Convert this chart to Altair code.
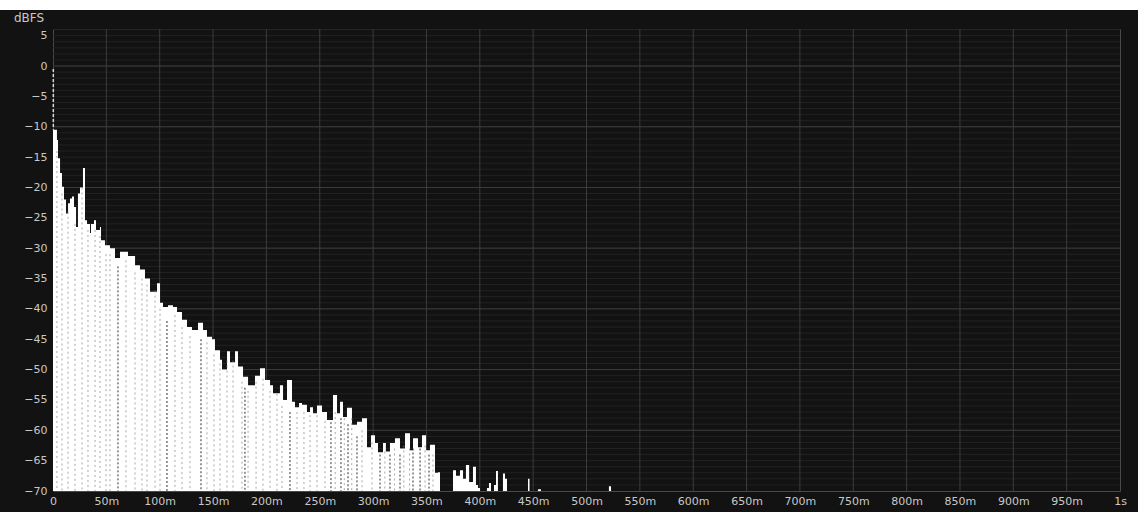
import altair as alt
import pandas as pd

# Envelope of the decay (time in ms, level in dBFS); -70 = floor / gap
time_ms = [0, 1.9, 3.7, 4.7, 6.6, 8.4, 10.3, 12.2, 14.1, 15.9, 17.8, 19.7, 21.6, 23.4, 25.3,
           28.1, 30.0, 31.9, 34.7, 35.6, 38.4, 40.3, 44.0, 45.0, 48.7, 53.4, 58.1, 62.8, 70.3,
           76.9, 81.5, 86.2, 90.9, 97.5, 100.3, 103.1, 107.8, 112.5, 116.2, 120.9, 125.6,
           130.3, 135.9, 140.6, 144.3, 149.0, 151.8, 156.5, 158.4, 163.1, 165.9, 170.6,
           173.4, 178.1, 182.8, 189.3, 194.0, 198.7, 203.4, 206.2, 212.7, 215.6, 219.3,
           224.0, 226.8, 230.6, 233.4, 238.0, 240.9, 243.7, 247.4, 252.1, 256.8, 262.4,
           266.2, 269.0, 271.8, 275.5, 280.2, 284.9, 289.6, 294.3, 298.0, 301.8, 304.6,
           309.3, 312.0, 315.8, 320.5, 325.2, 329.9, 334.6, 337.4, 342.1, 345.8, 349.6,
           353.3, 358.0, 360.8, 362.7,
           374.9, 377.7, 381.4, 384.3, 387.0, 390.0, 393.6, 396.4, 398.3, 400.2,
           406.7, 408.6, 410.5, 413.3, 415.2, 417.0, 421.7, 423.6, 425.5,
           445.2, 446.6, 454.5, 457.3, 521.0, 523.0]
level_db = [-10.5, -10.5, -12.2, -15.2, -17.6, -19.9, -22.0, -24.3, -22.6, -21.8, -21.5, -23.2, -26.5, -21.0, -20.0,
            -16.8, -25.4, -26.0, -27.5, -26.0, -25.4, -27.0, -26.5, -28.7, -29.5, -30.0, -31.6, -30.6, -31.3,
            -32.8, -33.5, -35.0, -37.2, -35.8, -39.0, -39.7, -39.4, -39.7, -40.5, -41.8, -43.0,
            -43.5, -42.3, -43.5, -44.6, -45.0, -46.8, -48.4, -50.0, -47.0, -48.8, -47.0,
            -49.5, -51.2, -52.6, -51.0, -49.8, -51.7, -52.6, -53.9, -52.6, -55.0, -51.7,
            -55.3, -56.2, -55.5, -55.8, -57.0, -56.2, -57.2, -55.9, -57.0, -58.3, -54.2,
            -57.2, -55.3, -57.8, -56.3, -59.1, -58.6, -58.0, -62.8, -60.8, -62.1, -63.6,
            -62.1, -63.5, -62.1, -61.3, -63.0, -60.5, -63.3, -61.3, -62.8, -60.8, -63.3,
            -62.4, -67.0, -66.9, -70.0,
            -66.6, -67.5, -66.6, -68.0, -65.7, -68.5, -66.0, -69.0, -69.5, -70.0,
            -69.5, -68.7, -70.0, -69.0, -66.7, -70.0, -67.1, -68.0, -70.0,
            -68.0, -70.0, -69.7, -70.0, -69.2, -70.0]

# Direct-sound impulse at t = 0 (thin dashed spike)
impulse_ms = [0.3]
impulse_top = [-0.5]
impulse_bottom = [-10.5]

# Dotted texture columns inside the decay (time in ms, top in dBFS)
gray_col_ms = [3.7, 8.4, 14.1, 20.6, 27.2, 32.8, 39.4, 44.0, 49.7, 53.4, 68.4, 76.9, 83.4,
               88.1, 95.6, 100.3, 114.3, 120.9, 128.4, 144.3, 150.9, 156.5, 163.1, 168.7,
               177.1, 182.8, 190.3, 196.8, 203.4, 209.9, 214.6, 228.7, 235.2, 240.9, 247.4,
               254.9, 264.5, 273.0, 280.0, 289.6, 299.0, 311.0, 320.0, 328.8, 334.2, 348.7,
               356.1]
gray_col_top = [-14, -21, -24, -26, -20, -27, -27, -28, -31, -31, -32, -34, -35,
                -36, -37, -40, -41, -43, -44.5, -45.5, -47.5, -49, -48.5, -48.5,
                -52, -53.5, -52, -51.5, -53.5, -54, -56, -57, -57, -57.5, -57.5,
                -58.5, -57, -58, -58, -60, -62, -63.5, -63, -62.5, -63, -62.5,
                -64]
dark_col_ms = [60.9, 106.8, 138.7, 179.9, 222.1, 260.5, 269.9, 276.5, 284.9, 306.5, 315.8,
               325.2, 337.4, 344.0, 352.4]
dark_col_top = [-33, -42, -45, -53, -57, -58, -58, -59, -61, -64, -64,
                -64, -63, -63, -64]

x_ticks = list(range(0, 1001, 50))
y_ticks = list(range(-70, 6, 5))
minor_db = list(range(-69, 7))
major_db = [-60, -50, -40, -30, -20, -10, 0]
vert_ms = list(range(50, 1000, 50))

W, H = 1067, 462
BG = "#121212"
LABEL = "#c8c8c8"
FONT = "DejaVu Sans"

xs = alt.Scale(domain=[0, 1000], nice=False, zero=False)
ys = alt.Scale(domain=[-70, 6.1], nice=False, zero=False)

ax_x = alt.Axis(
    values=x_ticks, grid=False, ticks=False, domain=False, title=None,
    labelExpr="datum.value == 0 ? '0' : (datum.value >= 1000 ? '1s' : datum.value + 'm')",
    labelColor=LABEL, labelFont=FONT, labelFontSize=11, labelPadding=4, labelOverlap=False,
    labelFlush=False)
ax_y = alt.Axis(
    values=y_ticks, grid=False, ticks=False, domain=False, title=None,
    labelColor=LABEL, labelFont=FONT, labelFontSize=11, labelPadding=6, labelOverlap=False,
    labelFlush=False)

df = pd.DataFrame({"t": time_ms, "db": level_db})
gray_df = pd.DataFrame({"t": gray_col_ms, "top": gray_col_top})
dark_df = pd.DataFrame({"t": dark_col_ms, "top": dark_col_top})
imp_df = pd.DataFrame({"t": impulse_ms, "top": impulse_top, "bot": impulse_bottom})

minor = alt.Chart(pd.DataFrame({"v": minor_db})).mark_rule(color="#222222", strokeWidth=1).encode(
    y=alt.Y("v:Q", scale=ys, axis=ax_y))
major = alt.Chart(pd.DataFrame({"v": major_db})).mark_rule(color="#3c3c3c", strokeWidth=1).encode(
    y=alt.Y("v:Q", scale=ys, axis=ax_y))
vert = alt.Chart(pd.DataFrame({"t": vert_ms})).mark_rule(color="#3c3c3c", strokeWidth=1).encode(
    x=alt.X("t:Q", scale=xs, axis=ax_x))

area = alt.Chart(df).mark_area(color="white", interpolate="step-after", opacity=1).encode(
    x=alt.X("t:Q", scale=xs, axis=ax_x),
    y=alt.Y("db:Q", scale=ys, axis=ax_y),
    y2=alt.datum(-70),
)

impulse = alt.Chart(imp_df).mark_rule(color="#d8d8d8", strokeWidth=1.5, strokeDash=[3, 2]).encode(
    x=alt.X("t:Q", scale=xs, axis=ax_x),
    y=alt.Y("top:Q", scale=ys, axis=ax_y),
    y2="bot:Q",
)

gray_cols = alt.Chart(gray_df).mark_rule(color="#8a8a8a", strokeWidth=1, strokeDash=[2, 3],
                                         opacity=0.75).encode(
    x=alt.X("t:Q", scale=xs, axis=ax_x),
    y=alt.Y("top:Q", scale=ys, axis=ax_y),
    y2=alt.datum(-70),
)
dark_cols = alt.Chart(dark_df).mark_rule(color="#1a1a1a", strokeWidth=1, strokeDash=[2, 2],
                                         opacity=0.9).encode(
    x=alt.X("t:Q", scale=xs, axis=ax_x),
    y=alt.Y("top:Q", scale=ys, axis=ax_y),
    y2=alt.datum(-70),
)

one = pd.DataFrame({"a": [0]})
strip = alt.Chart(one).mark_rect(color="white").encode(
    x=alt.value(-53), x2=alt.value(W + 18), y=alt.value(-29), y2=alt.value(-19))
title = alt.Chart(one).mark_text(text="dBFS", align="left", baseline="middle", color=LABEL,
                                 font=FONT, fontSize=12).encode(x=alt.value(-39), y=alt.value(-11))

chart = alt.layer(strip, minor, major, vert, area, impulse, gray_cols, dark_cols, title).properties(
    width=W, height=H, background=BG,
    padding={"left": 53, "top": 29, "right": 18, "bottom": 21},
    autosize=alt.AutoSizeParams(type="none"),
).configure_view(stroke="#4a4a4a", strokeWidth=1, fill=BG)

chart.save("out.html", embed_options={"renderer": "svg", "actions": False})
